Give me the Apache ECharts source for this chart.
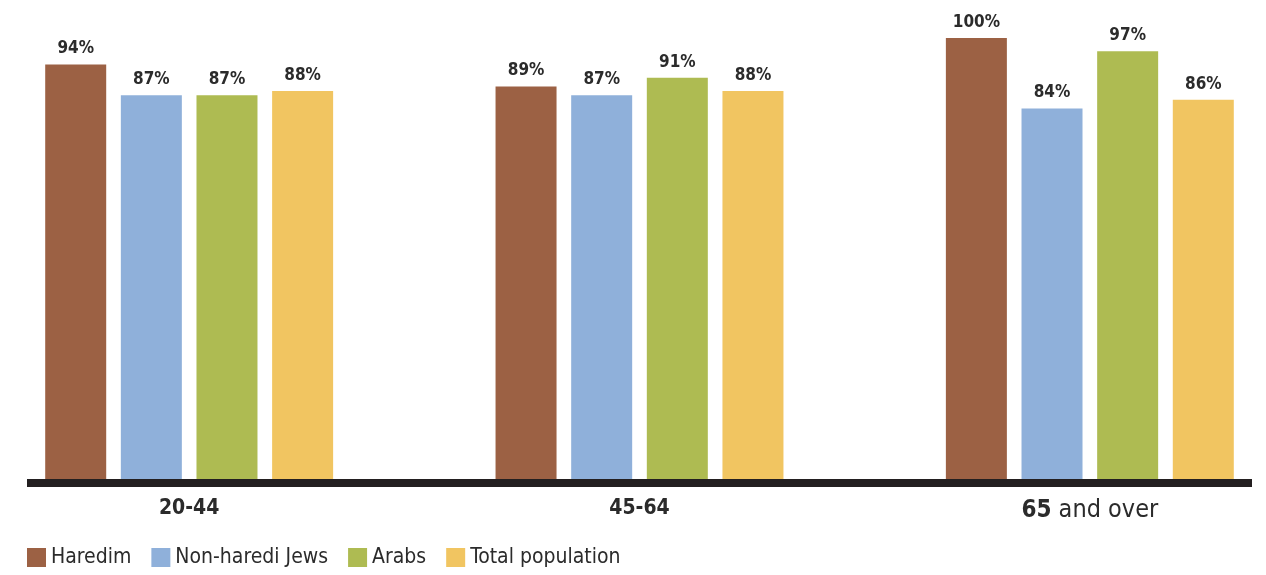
<!DOCTYPE html>
<html><head><meta charset="utf-8">
<script src="https://cdn.jsdelivr.net/npm/echarts@6/dist/echarts.min.js"></script>
<style>html,body{margin:0;padding:0;background:#fff}#c{width:1266px;height:575px}</style>
</head><body><div id="c"></div>
<script>
const categories = ['20-44', '45-64', '65 and over'];
const seriesNames = ['Haredim', 'Non-haredi Jews', 'Arabs', 'Total population'];
const haredim = [94, 89, 100];
const nonHarediJews = [87, 87, 84];
const arabs = [87, 91, 97];
const totalPopulation = [88, 88, 86];
const colors = ['#9C6144', '#8FB0DA', '#AEBB52', '#F1C561'];
const FONT = '"DejaVu Sans Condensed", "DejaVu Sans", sans-serif';

const chart = echarts.init(document.getElementById('c'));
const mk = (name, data, i) => ({
  name, type: 'bar', data, barWidth: 61, barGap: '24%',
  itemStyle: { color: colors[i] },
  label: { show: true, position: 'top', distance: 7, formatter: '{c}%',
    fontFamily: FONT, fontSize: 17, fontWeight: 'bold', color: '#2b2b2b' }
});
chart.setOption({
  animation: false,
  textStyle: { fontFamily: FONT },
  grid: { left: -36, width: 1351, top: 38, bottom: 96, containLabel: false, outerBoundsMode: 'none' },
  xAxis: { type: 'category', data: categories,
    axisLine: { show: false }, axisTick: { show: false },
    axisLabel: { margin: 19, fontFamily: FONT, color: '#2b2b2b',
      formatter: (v, i) => {
        if (i === 2) { const p = v.split(' '); return '{rb|' + p[0] + '}{r| ' + p.slice(1).join(' ') + '}'; }
        return '{b|' + v + '}';
      },
      rich: { b: { fontSize: 21, fontWeight: 'bold', fontFamily: FONT, color: '#2b2b2b' },
              rb: { fontSize: 24, fontWeight: 'bold', fontFamily: FONT, color: '#2b2b2b' },
              r: { fontSize: 25, fontFamily: FONT, color: '#2b2b2b' } } } },
  yAxis: { type: 'value', min: 0, max: 100, show: false },
  legend: { data: seriesNames, left: 22, top: 542, itemWidth: 19, itemHeight: 19, itemGap: 20,
    icon: 'rect', textStyle: { fontSize: 21, fontFamily: FONT, color: '#2b2b2b' } },
  graphic: [{ type: 'rect', left: 27, top: 479, shape: { width: 1225, height: 8 },
    style: { fill: '#231F20' } }],
  series: [mk(seriesNames[0], haredim, 0), mk(seriesNames[1], nonHarediJews, 1),
           mk(seriesNames[2], arabs, 2), mk(seriesNames[3], totalPopulation, 3)]
});
</script></body></html>
